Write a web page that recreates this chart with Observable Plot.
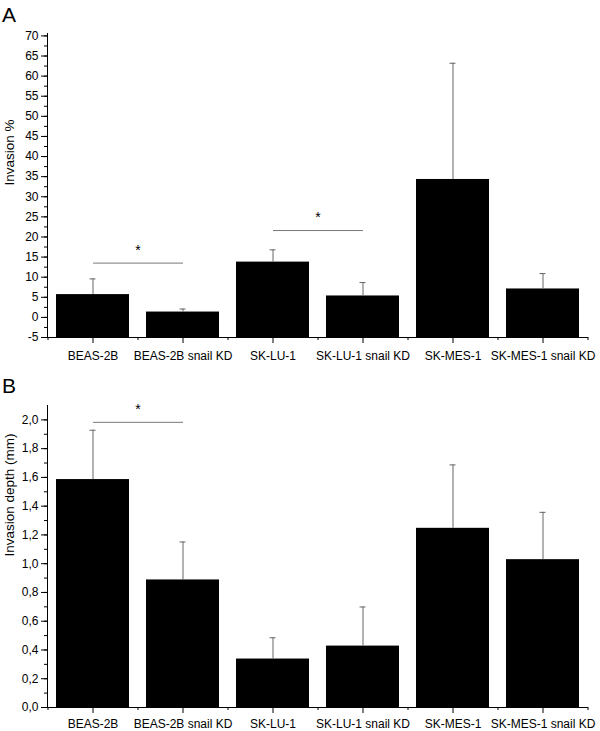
<!DOCTYPE html>
<html>
<head>
<meta charset="utf-8">
<script src="https://cdn.jsdelivr.net/npm/d3@7"></script>
<script src="https://cdn.jsdelivr.net/npm/@observablehq/plot@0.6"></script>
<style>
  body { margin: 0; background: #fff; }
  #wrap { position: relative; width: 600px; height: 731px; font-family: "Liberation Sans", Arial, Helvetica, sans-serif; }
  .panel { position: absolute; left: 0; }
  .letter { position: absolute; left: 2px; font-size: 21px; line-height: 1; color: #000; }
</style>
</head>
<body>
<div id="wrap">
  <div id="chartA" class="panel" style="top:0px"></div>
  <div id="chartB" class="panel" style="top:370px"></div>
  <div class="letter" style="top:4px">A</div>
  <div class="letter" style="top:375px">B</div>
</div>
<script>
// ---- data ----
const categories = ["BEAS-2B", "BEAS-2B snail KD", "SK-LU-1", "SK-LU-1 snail KD", "SK-MES-1", "SK-MES-1 snail KD"];

const invasionPct    = [5.67, 1.33, 13.75, 5.33, 34.3, 7.07];
const invasionPctErr = [3.9, 0.75, 3.05, 3.33, 28.9, 3.83];

const invasionDepth    = [1.585, 0.887, 0.337, 0.427, 1.246, 1.028];
const invasionDepthErr = [0.343, 0.264, 0.148, 0.272, 0.441, 0.329];

const yTicksA = [-5, 0, 5, 10, 15, 20, 25, 30, 35, 40, 45, 50, 55, 60, 65, 70];
const yTicksB = [0, 0.2, 0.4, 0.6, 0.8, 1.0, 1.2, 1.4, 1.6, 1.8, 2.0];

const sigFromA  = ["BEAS-2B", "SK-LU-1"];
const sigToA    = ["BEAS-2B snail KD", "SK-LU-1 snail KD"];
const sigLevelA = [13.5, 21.6];

const sigFromB  = ["BEAS-2B"];
const sigToB    = ["BEAS-2B snail KD"];
const sigLevelB = [1.983];

const labelA = "Invasion %";
const labelB = "Invasion depth (mm)";

// ---- drawing ----
const FONT = '"Liberation Sans", Arial, Helvetica, sans-serif';

function panel(opts) {
  const rows = categories.map((c, i) => ({cat: c, value: opts.values[i], err: opts.errs[i]}));
  const sig = opts.sigFrom.map((f, i) => ({from: f, to: opts.sigTo[i], y: opts.sigLevel[i]}));
  const minor = d3.range(opts.yDomain[0], opts.ticks[opts.ticks.length - 1] + 1e-9, opts.minorStep);
  return Plot.plot({
    width: 600,
    height: opts.height,
    marginLeft: 47,
    marginRight: 13,
    marginTop: opts.marginTop,
    marginBottom: opts.marginBottom,
    style: {fontFamily: FONT, fontSize: "12px", color: "#000", background: "#fff"},
    x: {type: "band", domain: categories, paddingInner: 0.19, paddingOuter: 0.095},
    y: {domain: opts.yDomain},
    marks: [
      Plot.barY(rows, {x: "cat", y1: opts.yDomain[0], y2: "value", fill: "#000"}),
      Plot.ruleX(rows, {x: "cat", y1: "value", y2: d => d.value + d.err, stroke: "#666", strokeWidth: 1}),
      Plot.tickY(rows, {x: "cat", y: d => d.value + d.err, stroke: "#666", insetLeft: 33.5, insetRight: 33.5}),
      Plot.link(sig, {x1: "from", x2: "to", y1: "y", y2: "y", stroke: "#777", strokeWidth: 1}),
      Plot.text(sig, {x: "from", y: "y", text: () => "*", dx: 45, dy: -13, fontSize: 14}),
      Plot.frame({anchor: "left"}),
      Plot.frame({anchor: "bottom"}),
      Plot.axisY({ticks: opts.ticks, tickSize: 6, tickPadding: 3, tickFormat: opts.tickFormat, label: null, fontSize: 12}),
      Plot.axisY({ticks: minor, tickSize: 3, tickFormat: () => "", label: null}),
      Plot.axisX({tickSize: 6, tickPadding: opts.xPad, label: null, fontSize: 12}),
      Plot.axisX({ticks: categories, tickSize: 3, tickFormat: () => "", label: null, dx: -45}),
      Plot.axisX({ticks: [categories[categories.length - 1]], tickSize: 3, tickFormat: () => "", label: null, dx: 45}),
      Plot.text([opts.label], {frameAnchor: "left", text: d => d, rotate: -90, dx: -38, fontSize: 13.5})
    ]
  });
}

document.getElementById("chartA").appendChild(panel({
  values: invasionPct, errs: invasionPctErr,
  yDomain: [-5, 70.6], ticks: yTicksA, minorStep: 2.5,
  tickFormat: d => String(d),
  sigFrom: sigFromA, sigTo: sigToA, sigLevel: sigLevelA,
  label: labelA, height: 370, marginTop: 33, marginBottom: 33, xPad: 8
}));

document.getElementById("chartB").appendChild(panel({
  values: invasionDepth, errs: invasionDepthErr,
  yDomain: [0, 2.1], ticks: yTicksB, minorStep: 0.1,
  tickFormat: d => d3.format(".1f")(d).replace(".", ","),
  sigFrom: sigFromB, sigTo: sigToB, sigLevel: sigLevelB,
  label: labelB, height: 361, marginTop: 35, marginBottom: 24, xPad: 6
}));
</script>
</body>
</html>
